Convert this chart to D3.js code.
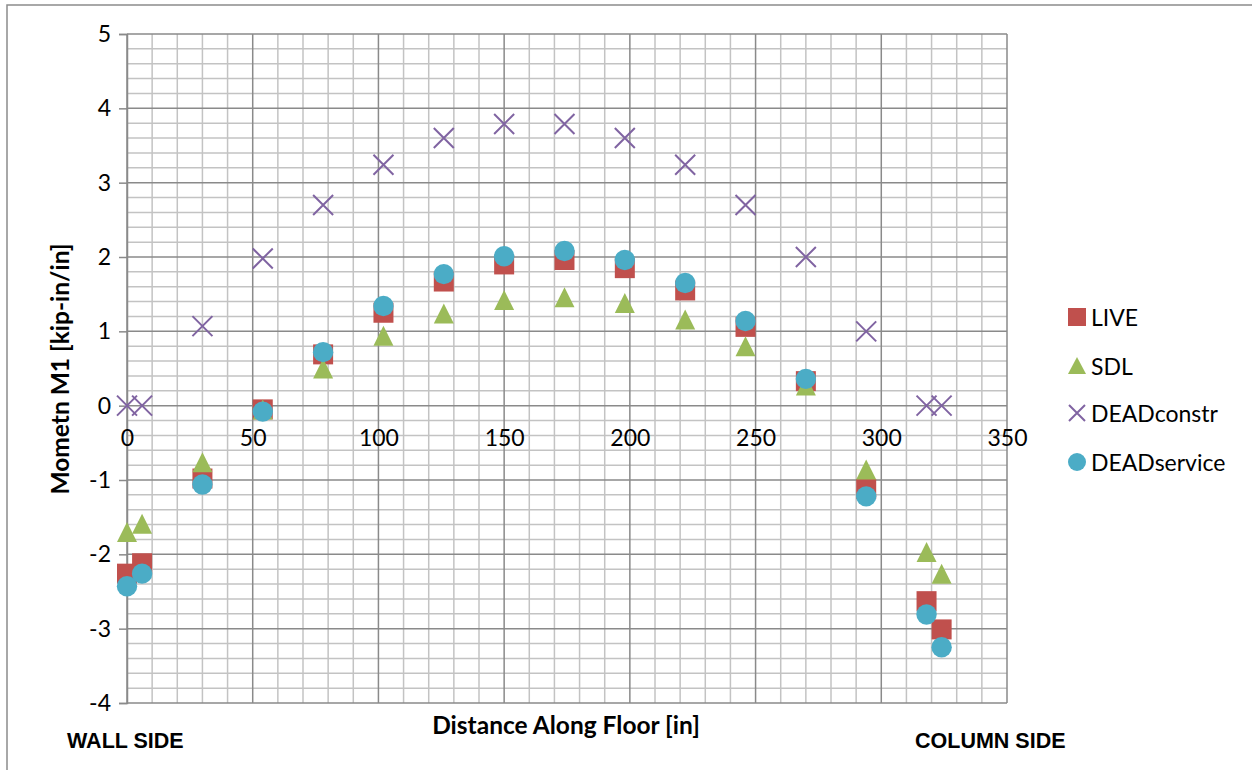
<!DOCTYPE html>
<html><head><meta charset="utf-8">
<script src="https://cdn.jsdelivr.net/npm/d3@7"></script>
<style>
html,body{margin:0;padding:0;background:#fff;}
svg{display:block;}
</style></head>
<body>
<svg id="chart" width="1252" height="770"></svg>
<script>
const xPos = [0, 6, 30, 54, 78, 102, 126, 150, 174, 198, 222, 246, 270, 294, 318, 324];
const liveVals = [-2.26, -2.12, -0.98, -0.05, 0.69, 1.25, 1.67, 1.90, 1.96, 1.85, 1.55, 1.06, 0.33, -1.12, -2.63, -3.01];
const sdlVals = [-1.70, -1.59, -0.76, -0.05, 0.50, 0.94, 1.24, 1.42, 1.46, 1.38, 1.16, 0.80, 0.27, -0.86, -1.97, -2.26];
const deadConstrVals = [0, 0, 1.07, 1.98, 2.70, 3.24, 3.60, 3.79, 3.79, 3.60, 3.24, 2.70, 2.00, 1.00, 0, 0];
const deadServiceVals = [-2.43, -2.26, -1.06, -0.08, 0.72, 1.34, 1.77, 2.01, 2.08, 1.96, 1.65, 1.14, 0.36, -1.22, -2.81, -3.25];
const xTicks = [0, 50, 100, 150, 200, 250, 300, 350];
const yTicks = [-4, -3, -2, -1, 0, 1, 2, 3, 4, 5];
const seriesNames = ["LIVE", "SDL", "DEADconstr", "DEADservice"];
const seriesColors = ["#C0504D", "#9BBB59", "#8064A2", "#4BACC6"];

const svg = d3.select("#chart");
const x = d3.scaleLinear().domain([0, 350]).range([127, 1007]);
const y = d3.scaleLinear().domain([-4, 5]).range([703, 34]);
const FONT = "Lato, sans-serif";

// outer frame
svg.append("rect").attr("x", 7).attr("y", 5).attr("width", 1270).attr("height", 800)
  .attr("fill", "none").attr("stroke", "#8c8c8c").attr("stroke-width", 1.5);

const grid = svg.append("g");
const xMinor = d3.range(0, 351, 10).filter(v => v % 50 !== 0);
const yMinor = d3.range(-40, 51, 2).map(v => v / 10).filter(v => Math.abs(v - Math.round(v)) > 1e-6);
grid.selectAll(".vx").data(xMinor).join("line")
  .attr("x1", d => x(d)).attr("x2", d => x(d)).attr("y1", y(5)).attr("y2", y(-4))
  .attr("stroke", "#c3c3c3").attr("stroke-width", 1.5);
grid.selectAll(".hy").data(yMinor).join("line")
  .attr("x1", x(0)).attr("x2", x(350)).attr("y1", d => y(d)).attr("y2", d => y(d))
  .attr("stroke", "#c3c3c3").attr("stroke-width", 1.5);
grid.selectAll(".vX").data(xTicks).join("line")
  .attr("x1", d => x(d)).attr("x2", d => x(d)).attr("y1", y(5)).attr("y2", y(-4))
  .attr("stroke", "#8a8a8a").attr("stroke-width", 1.5);
grid.selectAll(".hY").data(yTicks).join("line")
  .attr("x1", x(0)).attr("x2", x(350)).attr("y1", d => y(d)).attr("y2", d => y(d))
  .attr("stroke", "#8a8a8a").attr("stroke-width", 1.5);

// y axis
const yAxis = d3.axisLeft(y).tickValues(yTicks).tickSize(8).tickPadding(8).tickFormat(d => String(d));
const gy = svg.append("g").attr("transform", `translate(${x(0)},0)`).call(yAxis);
gy.select(".domain").attr("stroke", "#8a8a8a").attr("stroke-width", 1.5);
gy.selectAll(".tick line").attr("stroke", "#8a8a8a").attr("stroke-width", 1.5);
gy.selectAll("text").attr("font-family", FONT).attr("font-size", 23).attr("fill", "#000");

// x axis labels along zero line
const xAxis = d3.axisBottom(x).tickValues(xTicks).tickSize(0).tickPadding(24).tickFormat(d => String(d));
const gx = svg.append("g").attr("transform", `translate(0,${y(0)})`).call(xAxis);
gx.select(".domain").remove();
gx.selectAll("text").attr("font-family", FONT).attr("font-size", 23).attr("fill", "#000");

// markers
const pts = vals => vals.map((v, i) => [xPos[i], v]);
svg.append("g").selectAll("path").data(pts(liveVals)).join("path")
  .attr("transform", d => `translate(${x(d[0])},${y(d[1])})`)
  .attr("d", "M-10,-10H10V10H-10Z").attr("fill", seriesColors[0]);
svg.append("g").selectAll("path").data(pts(sdlVals)).join("path")
  .attr("transform", d => `translate(${x(d[0])},${y(d[1])})`)
  .attr("d", "M0,-10L10,10L-10,10Z").attr("fill", seriesColors[1]);
svg.append("g").selectAll("path").data(pts(deadConstrVals)).join("path")
  .attr("transform", d => `translate(${x(d[0])},${y(d[1])})`)
  .attr("d", "M-10,-10L10,10M10,-10L-10,10")
  .attr("fill", "none").attr("stroke", seriesColors[2]).attr("stroke-width", 2);
svg.append("g").selectAll("circle").data(pts(deadServiceVals)).join("circle")
  .attr("cx", d => x(d[0])).attr("cy", d => y(d[1])).attr("r", 10.2)
  .attr("fill", seriesColors[3]);

// axis titles
svg.append("text").attr("transform", "translate(59,369) rotate(-90)")
  .attr("text-anchor", "middle").attr("dominant-baseline", "central")
  .attr("font-family", FONT).attr("font-weight", "bold").attr("font-size", 24.5)
  .text("Mometn M1 [kip-in/in]");
svg.append("text").attr("x", 566).attr("y", 724)
  .attr("text-anchor", "middle").attr("dominant-baseline", "central")
  .attr("font-family", FONT).attr("font-weight", "bold").attr("font-size", 24.5)
  .text("Distance Along Floor [in]");
svg.append("text").attr("x", 67).attr("y", 748)
  .attr("font-family", "'Liberation Sans', Arial, sans-serif").attr("font-weight", "bold").attr("font-size", 21.5)
  .text("WALL SIDE");
svg.append("text").attr("x", 915).attr("y", 748)
  .attr("font-family", "'Liberation Sans', Arial, sans-serif").attr("font-weight", "bold").attr("font-size", 21.5)
  .text("COLUMN SIDE");

// legend
const legY = [317, 366, 413, 462];
const lg = svg.append("g");
seriesNames.forEach((name, i) => {
  const cx = 1077, cy = legY[i], c = seriesColors[i];
  if (i === 0) lg.append("rect").attr("x", cx - 9).attr("y", cy - 9).attr("width", 18).attr("height", 18).attr("fill", c);
  if (i === 1) lg.append("path").attr("d", `M${cx},${cy-9}L${cx+9},${cy+8}L${cx-9},${cy+8}Z`).attr("fill", c);
  if (i === 2) lg.append("path").attr("d", `M${cx-8},${cy-8}L${cx+8},${cy+8}M${cx+8},${cy-8}L${cx-8},${cy+8}`).attr("stroke", c).attr("stroke-width", 2);
  if (i === 3) lg.append("circle").attr("cx", cx).attr("cy", cy).attr("r", 9).attr("fill", c);
  lg.append("text").attr("x", 1091).attr("y", cy).attr("dominant-baseline", "central")
    .attr("font-family", FONT).attr("font-size", 23).text(name);
});
</script>
</body></html>
